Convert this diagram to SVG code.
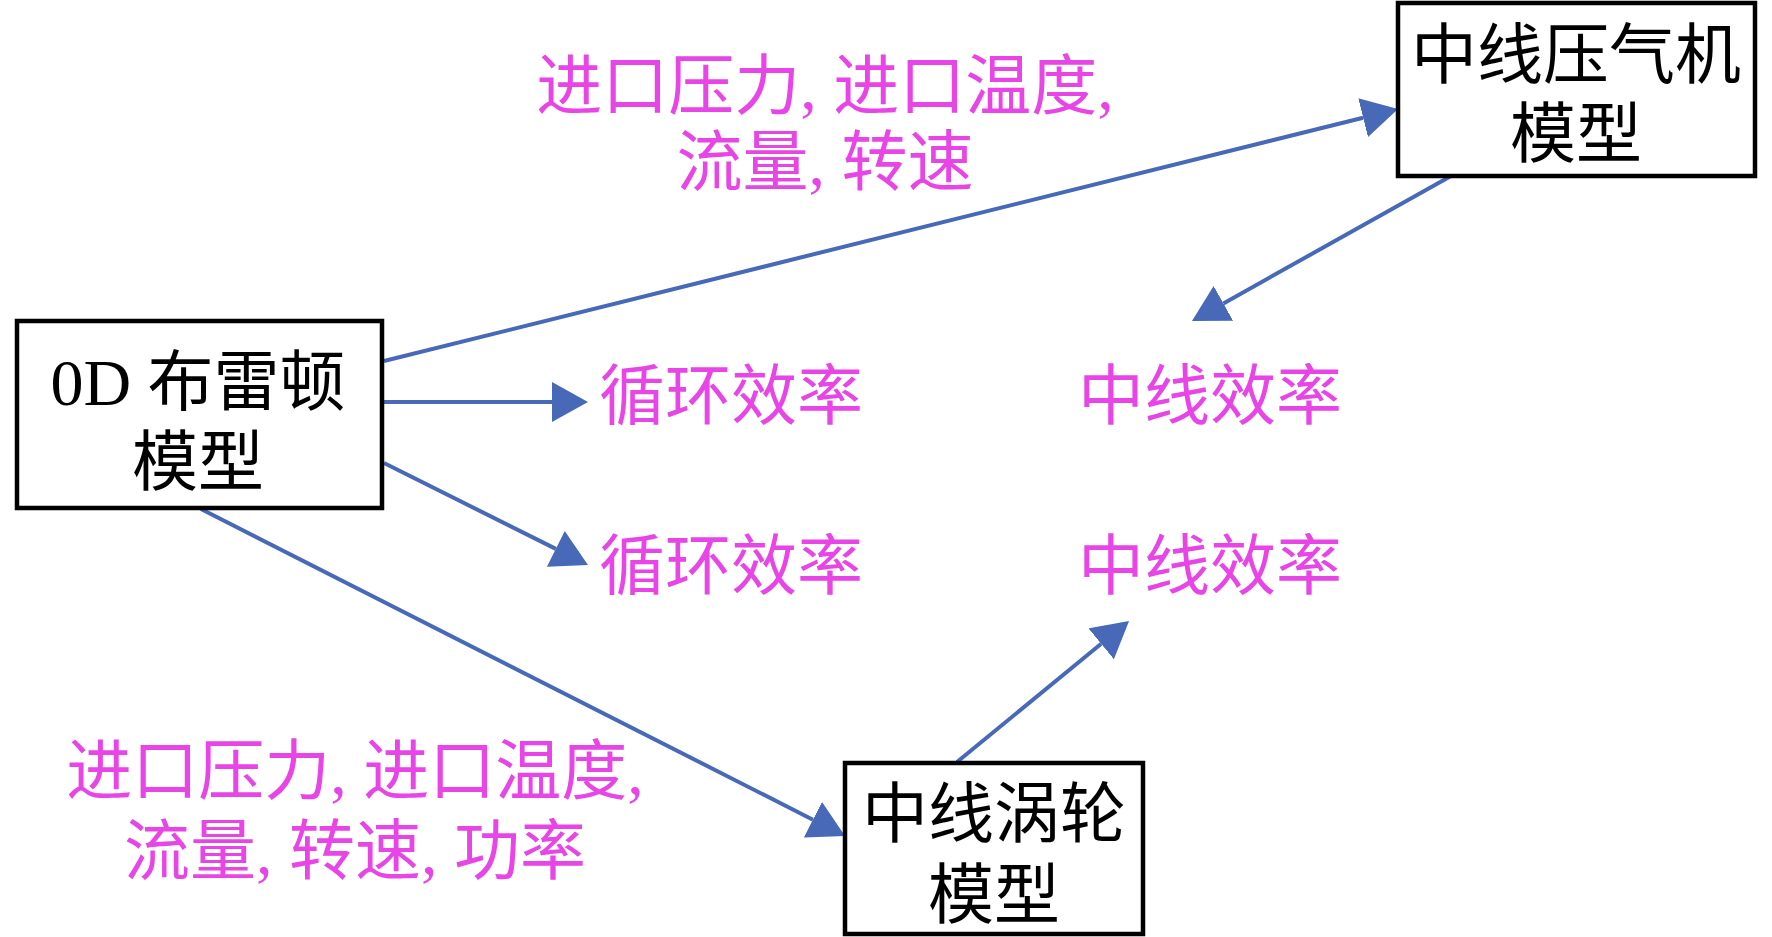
<svg xmlns="http://www.w3.org/2000/svg" width="1772" height="937" viewBox="0 0 1772 937">
<style>
.box{fill:#fff;stroke:#000;stroke-width:4.5}
.nt{font-family:"Liberation Serif","Noto Sans CJK SC",serif;font-size:66px;fill:#000;text-anchor:middle}
.lb{font-family:"Liberation Serif","Noto Sans CJK SC",serif;font-size:66px;fill:#E845E6;text-anchor:middle}
.cn{stroke:#4769B8;stroke-width:4;fill:none}
</style>
<defs>
<marker id="ah" markerUnits="userSpaceOnUse" viewBox="0 0 36 40" refX="0" refY="20" markerWidth="36" markerHeight="40" orient="auto">
<path d="M0,0 L36,20 L0,40 z" fill="#4769B8"/>
</marker>
</defs>
<rect width="1772" height="937" fill="#fff"/>
<g id="connectors">
<line class="cn" x1="384" y1="361" x2="1363.1" y2="117.7" marker-end="url(#ah)"/>
<line class="cn" x1="384" y1="402" x2="552" y2="402" marker-end="url(#ah)"/>
<line class="cn" x1="384" y1="463" x2="555.8" y2="548.9" marker-end="url(#ah)"/>
<line class="cn" x1="201" y1="509" x2="812.9" y2="819.7" marker-end="url(#ah)"/>
<line class="cn" x1="1451" y1="176" x2="1223.4" y2="303.4" marker-end="url(#ah)"/>
<line class="cn" x1="957" y1="762" x2="1101.2" y2="643.8" marker-end="url(#ah)"/>
</g>
<g id="node-brayton">
<rect class="box" x="17" y="321" width="365" height="187"/>
<text class="nt" x="198" y="405">0D 布雷顿</text>
<text class="nt" x="198" y="485">模型</text>
</g>
<g id="node-compressor">
<rect class="box" x="1398" y="3" width="357" height="173"/>
<text class="nt" x="1576" y="78">中线压气机</text>
<text class="nt" x="1576" y="157">模型</text>
</g>
<g id="node-turbine">
<rect class="box" x="845" y="763" width="298" height="171"/>
<text class="nt" x="994" y="837">中线涡轮</text>
<text class="nt" x="994" y="918">模型</text>
</g>
<g id="labels">
<text class="lb" x="825" y="109">进口压力, 进口温度,</text>
<text class="lb" x="825" y="185">流量, 转速</text>
<text class="lb" x="355" y="794">进口压力, 进口温度,</text>
<text class="lb" x="355" y="874">流量, 转速, 功率</text>
<text class="lb" x="731" y="419">循环效率</text>
<text class="lb" x="731" y="589">循环效率</text>
<text class="lb" x="1210" y="419">中线效率</text>
<text class="lb" x="1210" y="589">中线效率</text>
</g>
</svg>
